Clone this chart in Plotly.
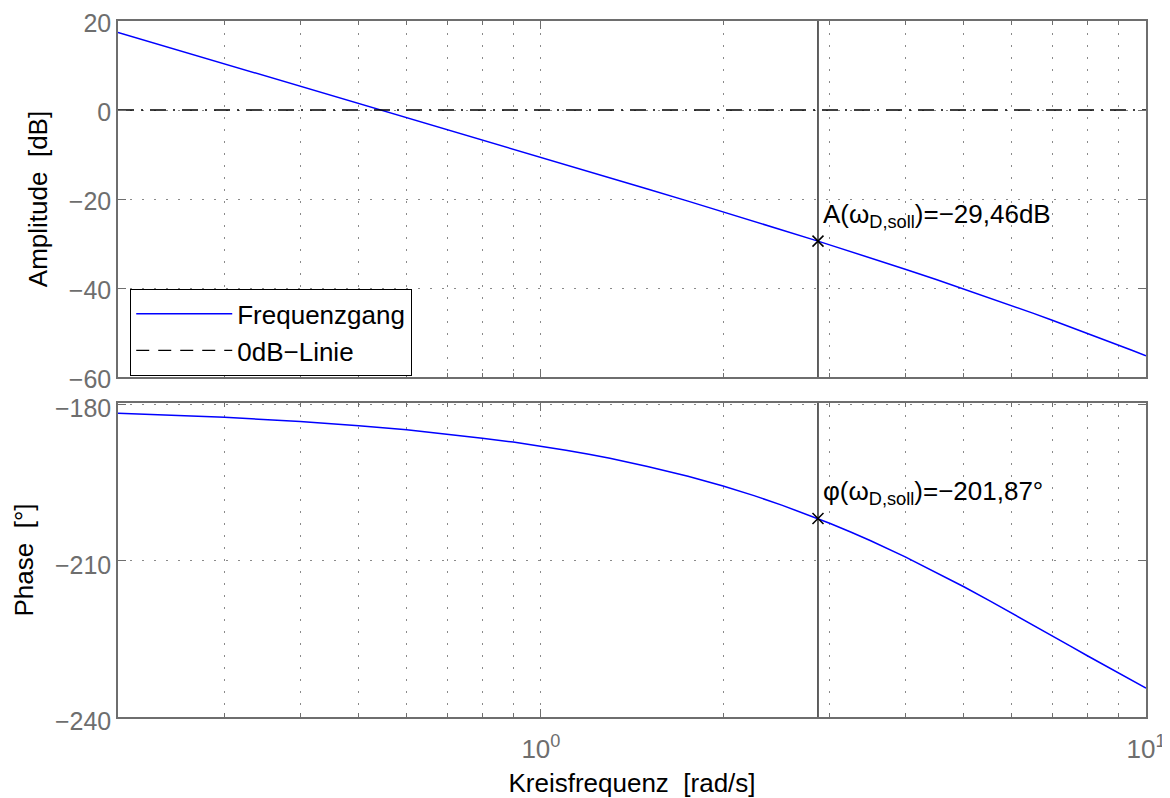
import plotly.graph_objects as go
from plotly.subplots import make_subplots

# ---------------- data ----------------
omega = [0.2, 0.25, 0.3, 0.4, 0.5, 0.6, 0.7, 0.8, 0.9, 1.0, 1.1, 1.2, 1.3, 1.5,
         1.75, 2.0, 2.25, 2.5, 2.87, 3.0, 3.25, 3.5, 4.0, 4.5, 5.0, 5.5, 6.0,
         6.5, 7.0, 7.5, 8.0, 8.5, 9.0, 9.5, 10.0]
amplitude_db = [17.45, 13.57, 10.40, 5.40, 1.51, -1.66, -4.35, -6.68, -8.74,
                -10.59, -12.26, -13.79, -15.20, -17.74, -20.48, -22.87, -25.00,
                -26.92, -29.46, -30.30, -31.80, -33.20, -35.77, -38.08, -40.20,
                -42.14, -43.95, -45.64, -47.23, -48.73, -50.16, -51.51, -52.80,
                -54.04, -55.22]
phase_deg = [-181.65, -182.05, -182.45, -183.25, -184.05, -184.85, -185.65,
             -186.45, -187.2, -188.0, -188.75, -189.55, -190.3, -191.9, -193.77,
             -195.65, -197.48, -199.3, -201.87, -202.78, -204.47, -206.1,
             -209.25, -212.21, -214.99, -217.60, -220.03, -222.30, -224.42,
             -226.40, -228.24, -229.96, -231.56, -233.06, -234.46]
zero_line_x = [0.2, 10.0]
zero_line_y = [0.0, 0.0]

omega_d_soll = 2.87
amp_at_soll = -29.46
phase_at_soll = -201.87

amp_range = [-60, 20]
phase_range = [-240, -179.7]
amp_ticks = [20, 0, -20, -40, -60]
phase_ticks = [-180, -210, -240]
x_major_ticks = [1, 10]
x_major_labels = ["10<sup>0</sup>", "10<sup>1</sup>"]
x_minor_ticks = [0.3, 0.4, 0.5, 0.6, 0.7, 0.8, 0.9, 2, 3, 4, 5, 6, 7, 8, 9]

amp_label = "A(ω<sub>D,soll</sub>)=−29,46dB"
phase_label = "φ(ω<sub>D,soll</sub>)=−201,87°"

# ---------------- styling ----------------
FONT = "Liberation Sans, Arial, sans-serif"
AXIS_GRAY = "#6e6e6e"
GRID_GRAY = "#8a8a8a"
FS = 26
TICK_FS = 25

fig = make_subplots(rows=2, cols=1, shared_xaxes=False, vertical_spacing=0.0)

# amplitude
fig.add_trace(go.Scatter(x=omega, y=amplitude_db, mode="lines",
                         line=dict(color="#0000ff", width=1.5),
                         name="Frequenzgang", showlegend=True), row=1, col=1)
fig.add_trace(go.Scatter(x=zero_line_x, y=zero_line_y, mode="lines",
                         line=dict(color="black", width=1.5, dash="16px,7px,2px,7px"),
                         name="0dB−Linie", showlegend=False), row=1, col=1)
# legend entry for the 0 dB line (dashed as drawn in the reference legend)
fig.add_trace(go.Scatter(x=[None], y=[None], mode="lines",
                         line=dict(color="black", width=1.2, dash="13px,9px"),
                         name="0dB−Linie", showlegend=True), row=1, col=1)
fig.add_trace(go.Scatter(x=[omega_d_soll, omega_d_soll], y=amp_range, mode="lines",
                         line=dict(color="#2b2b2b", width=1.5), showlegend=False,
                         hoverinfo="skip"), row=1, col=1)
fig.add_trace(go.Scatter(x=[omega_d_soll], y=[amp_at_soll], mode="markers",
                         marker=dict(symbol="x-thin", size=11, color="black",
                                     line=dict(color="black", width=1.5)),
                         showlegend=False), row=1, col=1)

# phase
fig.add_trace(go.Scatter(x=omega, y=phase_deg, mode="lines",
                         line=dict(color="#0000ff", width=1.5),
                         showlegend=False), row=2, col=1)
fig.add_trace(go.Scatter(x=[omega_d_soll, omega_d_soll], y=phase_range, mode="lines",
                         line=dict(color="#2b2b2b", width=1.5), showlegend=False,
                         hoverinfo="skip"), row=2, col=1)
fig.add_trace(go.Scatter(x=[omega_d_soll], y=[phase_at_soll], mode="markers",
                         marker=dict(symbol="x-thin", size=11, color="black",
                                     line=dict(color="black", width=1.5)),
                         showlegend=False), row=2, col=1)

# annotations
fig.add_annotation(x=0.4578, y=amp_at_soll, xref="x", yref="y", text=amp_label,
                   showarrow=False, xanchor="left", yanchor="middle",
                   xshift=3, yshift=26, font=dict(family=FONT, size=FS, color="black"))
fig.add_annotation(x=0.4578, y=phase_at_soll, xref="x2", yref="y2", text=phase_label,
                   showarrow=False, xanchor="left", yanchor="middle",
                   xshift=3, yshift=26, font=dict(family=FONT, size=FS, color="black"))

common_x = dict(type="log", range=[-0.69897, 1.0], tickvals=x_major_ticks,
                ticktext=x_major_labels, ticks="inside", ticklen=8, tickcolor=AXIS_GRAY,
                showline=True, linecolor=AXIS_GRAY, linewidth=1.5, mirror="ticks",
                showgrid=True, gridcolor=GRID_GRAY, gridwidth=1, griddash="2px,10px",
                zeroline=False, automargin=False, ticklabelstandoff=8,
                ticklabeloverflow="allow",
                minor=dict(tickvals=x_minor_ticks, ticks="inside", ticklen=4,
                           tickcolor=AXIS_GRAY, showgrid=True, gridcolor=GRID_GRAY,
                           gridwidth=1, griddash="2px,10px"),
                tickfont=dict(family=FONT, size=FS, color=AXIS_GRAY))

fig.update_xaxes(**common_x)
fig.update_xaxes(showticklabels=False, row=1, col=1)
fig.update_xaxes(title=dict(text="Kreisfrequenz  [rad/s]", standoff=14,
                            font=dict(family=FONT, size=FS, color="black")), row=2, col=1)

common_y = dict(ticks="inside", ticklen=8, tickcolor=AXIS_GRAY, showline=True,
                linecolor=AXIS_GRAY, linewidth=1.5, mirror="ticks", showgrid=True,
                gridcolor=GRID_GRAY, gridwidth=1, griddash="2px,10px", zeroline=False,
                automargin=False, ticklabeloverflow="allow",
                tickfont=dict(family=FONT, size=TICK_FS, color=AXIS_GRAY))
fig.update_yaxes(**common_y)
fig.update_yaxes(range=amp_range, tickvals=amp_ticks, domain=[0.4885, 1.0],
                 ticklabelshift=2,
                 title=dict(text="Amplitude  [dB]", standoff=14,
                            font=dict(family=FONT, size=FS, color="black")), row=1, col=1)
fig.update_yaxes(range=phase_range, tickvals=phase_ticks, domain=[0.0, 0.4511],
                 ticklabelshift=4,
                 title=dict(text="Phase  [°]", standoff=14,
                            font=dict(family=FONT, size=FS, color="black")), row=2, col=1)

# the page adds an 8px body margin, so the figure is 8px smaller than the window
fig.update_layout(
    width=1162, height=790,
    margin=dict(l=110, r=24, t=13, b=81),
    paper_bgcolor="white", plot_bgcolor="white",
    font=dict(family=FONT, size=FS, color="black"),
    showlegend=True,
    legend=dict(x=0.0117, y=0.6149, xanchor="left", yanchor="top",
                bgcolor="white", bordercolor="black", borderwidth=1.2,
                font=dict(family=FONT, size=26, color="black"),
                itemwidth=96, tracegroupgap=0),
)

fig.write_html("out.html")
